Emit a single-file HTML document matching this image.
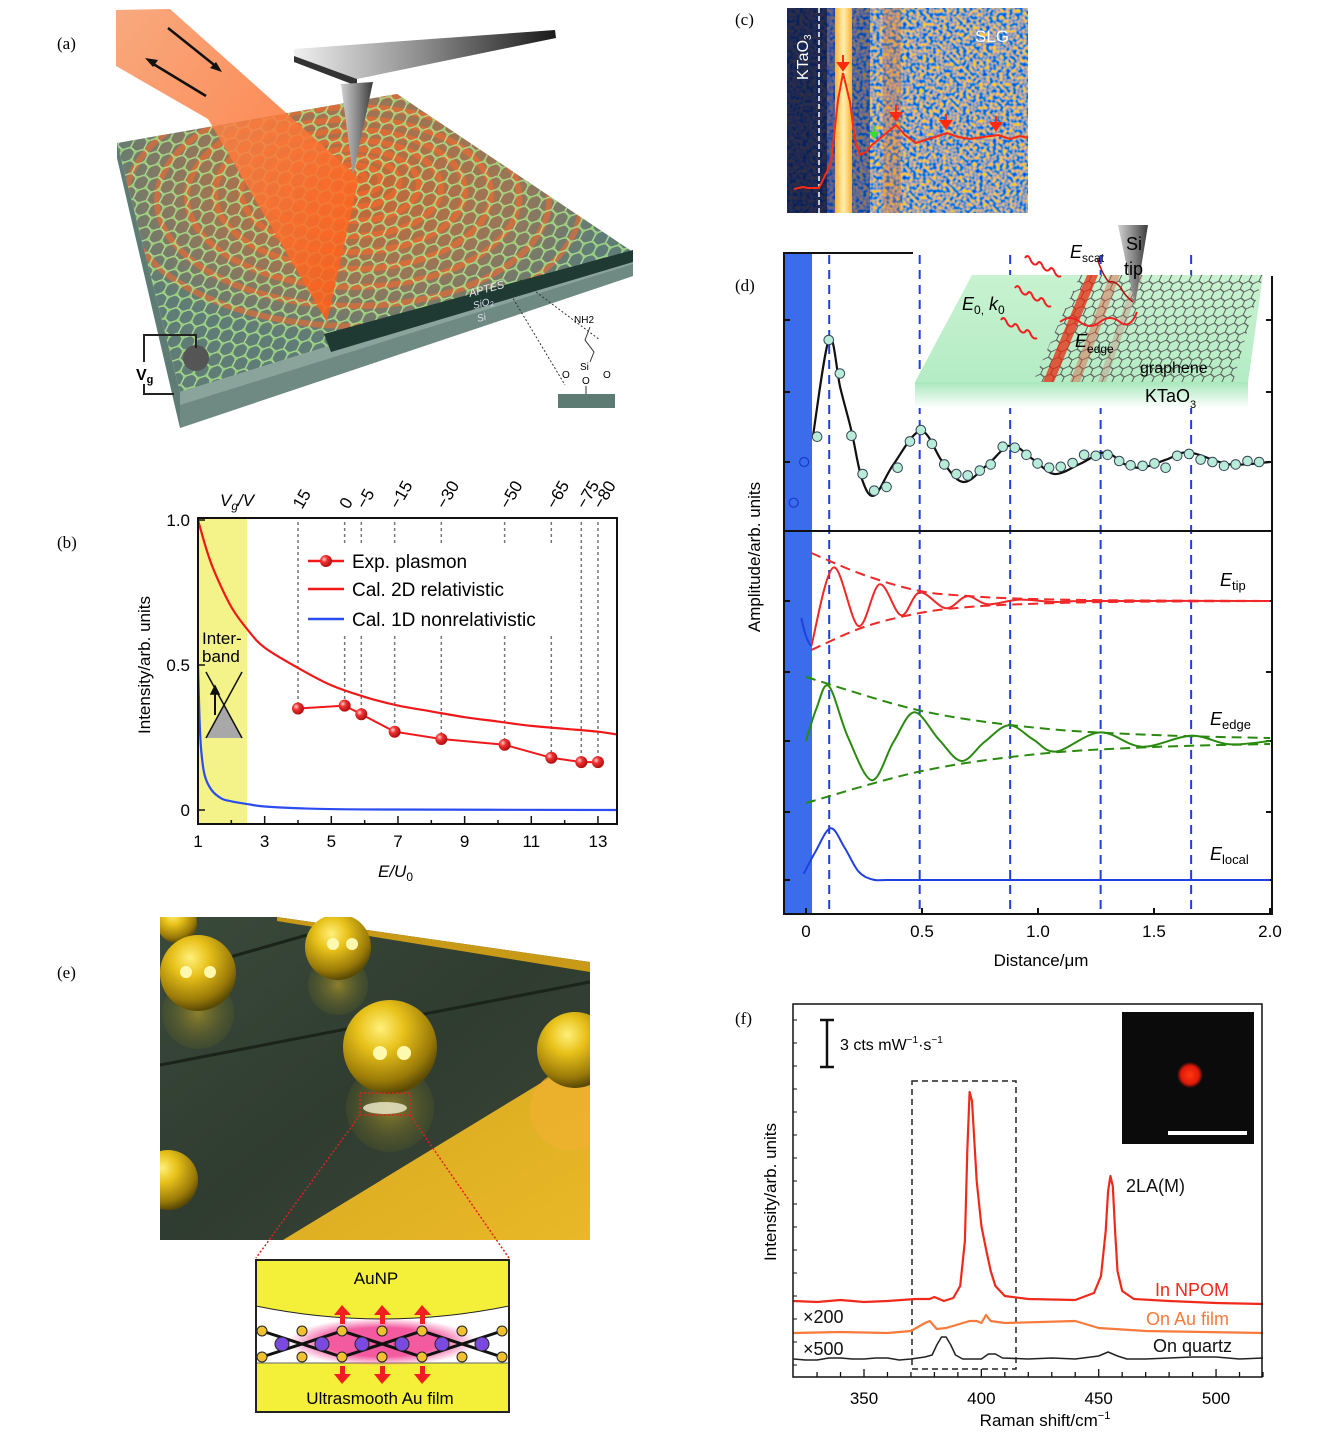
<!DOCTYPE html>
<html><head><meta charset="utf-8"><style>
html,body{margin:0;padding:0;background:#fff;width:1339px;height:1433px;overflow:hidden}
svg{display:block;font-family:"Liberation Sans",sans-serif}
.pl{font-family:"Liberation Serif",serif;font-size:17px}
</style></head><body>
<svg id="fig" width="1339" height="1433" viewBox="0 0 1339 1433" xmlns="http://www.w3.org/2000/svg">
<defs>
<pattern id="hexA" width="14" height="24" patternUnits="userSpaceOnUse" patternTransform="skewX(-20) rotate(8)">
<path d="M0,4 L7,0 L14,4 M7,0 V-4 M0,4 V12 L7,16 L14,12 V4 M7,16 V24" fill="none" stroke="#b9e79a" stroke-width="1.6"/>
<circle cx="7" cy="0" r="1.8" fill="#9fe07a"/><circle cx="0" cy="4" r="1.8" fill="#9fe07a"/><circle cx="14" cy="4" r="1.8" fill="#9fe07a"/><circle cx="0" cy="12" r="1.8" fill="#9fe07a"/><circle cx="14" cy="12" r="1.8" fill="#9fe07a"/><circle cx="7" cy="16" r="1.8" fill="#9fe07a"/>
</pattern>
<pattern id="hexD" width="10" height="17" patternUnits="userSpaceOnUse" patternTransform="skewX(-25)">
<path d="M0,3 L5,0 L10,3 M0,3 V9 L5,12 L10,9 V3 M5,12 V17" fill="none" stroke="#555" stroke-width="1"/>
</pattern>
<clipPath id="slabClip"><polygon points="117,143 397,94 633,252 180,392"/></clipPath>
<clipPath id="eClip"><rect x="160" y="917" width="430" height="323"/></clipPath>
<radialGradient id="glowA" cx="0.5" cy="0.5" r="0.5"><stop offset="0" stop-color="#ff5a10" stop-opacity="0.85"/><stop offset="0.6" stop-color="#ff6a20" stop-opacity="0.45"/><stop offset="1" stop-color="#ff6a20" stop-opacity="0"/></radialGradient>
<linearGradient id="beam" x1="0" y1="0" x2="1" y2="1"><stop offset="0" stop-color="#f79a68"/><stop offset="1" stop-color="#ff5a12"/></linearGradient>
<linearGradient id="cant" x1="0" y1="0" x2="1" y2="0"><stop offset="0" stop-color="#f0f0f0"/><stop offset="0.5" stop-color="#8a8a8a"/><stop offset="1" stop-color="#1a1a1a"/></linearGradient>
<linearGradient id="tipg" x1="0" y1="0" x2="1" y2="0"><stop offset="0" stop-color="#d0d0d0"/><stop offset="0.5" stop-color="#8a8a8a"/><stop offset="1" stop-color="#3a3a3a"/></linearGradient>
<radialGradient id="gold" cx="0.4" cy="0.3" r="0.7"><stop offset="0" stop-color="#fff07a"/><stop offset="0.35" stop-color="#e8c21a"/><stop offset="0.8" stop-color="#9a7a08"/><stop offset="1" stop-color="#5a4a05"/></radialGradient>
<radialGradient id="goldR" cx="0.5" cy="0.5" r="0.5"><stop offset="0" stop-color="#c8a828" stop-opacity="0.6"/><stop offset="1" stop-color="#6a6a20" stop-opacity="0.2"/></radialGradient>
<linearGradient id="egreen" x1="0" y1="0" x2="1" y2="1"><stop offset="0" stop-color="#3a4a3a"/><stop offset="0.5" stop-color="#2f3c30"/><stop offset="1" stop-color="#3a4636"/></linearGradient>
<linearGradient id="egold" x1="0" y1="0" x2="1" y2="1"><stop offset="0" stop-color="#d8a820"/><stop offset="1" stop-color="#e8b828"/></linearGradient>
<radialGradient id="pinkg" cx="0.5" cy="0.5" r="0.5"><stop offset="0.6" stop-color="#f45aa0"/><stop offset="1" stop-color="#f45aa0" stop-opacity="0"/></radialGradient>
<radialGradient id="dot" cx="0.5" cy="0.5" r="0.5"><stop offset="0" stop-color="#ff3a10"/><stop offset="0.7" stop-color="#e01808"/><stop offset="1" stop-color="#e01808" stop-opacity="0"/></radialGradient>
<radialGradient id="ball" cx="0.35" cy="0.35" r="0.65"><stop offset="0" stop-color="#ffd0d0"/><stop offset="0.4" stop-color="#f03030"/><stop offset="1" stop-color="#b01010"/></radialGradient>
<linearGradient id="insetG" x1="0" y1="0" x2="0" y2="1"><stop offset="0" stop-color="#c8f2d0"/><stop offset="1" stop-color="#b4ecc4"/></linearGradient>
<linearGradient id="insetF" x1="0" y1="0" x2="0" y2="1"><stop offset="0" stop-color="#a8e8bc"/><stop offset="1" stop-color="#ffffff"/></linearGradient>
<filter id="noise" x="0" y="0" width="1" height="1">
<feTurbulence type="fractalNoise" baseFrequency="0.3" numOctaves="1" seed="3"/>
<feColorMatrix type="matrix" values="3.0 0 0 0 -1.15  1.0 0 0 0 -0.15  -2.0 0 0 0 1.45  0 0 0 0 1"/>
</filter>
<linearGradient id="cband" x1="0" y1="0" x2="1" y2="0"><stop offset="0" stop-color="#ffb030"/><stop offset="0.5" stop-color="#fff0b0"/><stop offset="1" stop-color="#ffb030"/></linearGradient>
</defs>

<text class="pl" x="57" y="49">(a)</text>
<text class="pl" x="57" y="548">(b)</text>
<text class="pl" x="735" y="25">(c)</text>
<text class="pl" x="735" y="291">(d)</text>
<text class="pl" x="57" y="978">(e)</text>
<text class="pl" x="735" y="1024">(f)</text>

<!-- PANEL A -->
<g>
<polygon points="117,143 180,392 180,428 117,158" fill="#5e7c74"/>
<polygon points="180,392 633,252 633,276 180,428" fill="#8aa39b"/>
<polygon points="180,405 633,264 633,276 180,428" fill="#6f8a82"/>
<polygon points="117,143 397,94 633,252 180,392" fill="#5f7d76"/>
<g clip-path="url(#slabClip)">
<ellipse cx="353" cy="190" rx="260" ry="150" fill="url(#glowA)" opacity="0.8"/>
<g fill="none" stroke="#ff6a2a" stroke-opacity="0.55" stroke-width="6">
<ellipse cx="353" cy="178" rx="12" ry="6"/><ellipse cx="353" cy="180" rx="28" ry="15"/><ellipse cx="353" cy="182" rx="46" ry="25"/><ellipse cx="353" cy="185" rx="66" ry="36"/><ellipse cx="353" cy="188" rx="88" ry="48"/><ellipse cx="353" cy="191" rx="112" ry="61"/><ellipse cx="353" cy="194" rx="138" ry="75"/><ellipse cx="353" cy="197" rx="166" ry="90"/><ellipse cx="353" cy="200" rx="196" ry="106"/><ellipse cx="353" cy="203" rx="228" ry="123"/>
</g>
<polygon points="117,143 397,94 633,252 180,392" fill="url(#hexA)" opacity="0.85"/>
</g>
<polygon points="324,334 633,250 633,262 331,352" fill="#1f3a33"/>
<polygon points="116,10 170,9 359,178 327,322 208,119 116,66" fill="url(#beam)" opacity="0.85"/>
<line x1="168" y1="28" x2="218" y2="68" stroke="#111" stroke-width="2.5"/>
<polygon points="222,72 210,68 216,62" fill="#111"/>
<line x1="206" y1="96" x2="150" y2="62" stroke="#111" stroke-width="2.5"/>
<polygon points="145,58 158,60 153,67" fill="#111"/>
<polygon points="294,49 555,30 556,38 357,79 294,56" fill="url(#cant)"/>
<polygon points="294,56 357,79 357,86 294,62" fill="#333"/>
<polygon points="341,84 373,82 353,175" fill="url(#tipg)"/>
<text x="470" y="297" font-size="11" font-style="italic" fill="#e8e8e8" transform="rotate(-15 470 297)">APTES</text>
<text x="474" y="309" font-size="10" font-style="italic" fill="#dde" transform="rotate(-15 474 309)">SiO<tspan font-size="7" dy="2">2</tspan></text>
<text x="478" y="322" font-size="10" font-style="italic" fill="#dde" transform="rotate(-15 478 322)">Si</text>
<circle cx="196" cy="358" r="13" fill="#555"/>
<polyline points="196,348 196,335 144,335 144,394 174,394" fill="none" stroke="#222" stroke-width="2"/>
<rect x="134" y="362" width="22" height="22" fill="#fff"/>
<text x="136" y="380" font-size="16" font-weight="bold">V<tspan font-size="11" dy="3">g</tspan></text>
<line x1="505" y1="285" x2="565" y2="385" stroke="#333" stroke-dasharray="2,2"/>
<line x1="520" y1="280" x2="600" y2="340" stroke="#333" stroke-dasharray="2,2"/>
<rect x="558" y="394" width="57" height="14" fill="#5d7b73"/>
<text x="574" y="323" font-size="10">NH2</text>
<polyline points="590,327 585,340 594,352 590,362" fill="none" stroke="#333"/>
<text x="580" y="370" font-size="10">Si</text>
<text x="562" y="378" font-size="10">O</text><text x="603" y="378" font-size="10">O</text><text x="582" y="384" font-size="10">O</text>
<line x1="586" y1="386" x2="586" y2="394" stroke="#333"/>
</g>

<!-- PANEL C -->
<g>
<rect x="787" y="8" width="241" height="205" fill="#5060a0" filter="url(#noise)"/>
<rect x="787" y="8" width="40" height="205" fill="#0a1440" opacity="0.85"/>
<rect x="827" y="8" width="8" height="205" fill="#1a2a80" opacity="0.6"/>
<rect x="852" y="8" width="18" height="205" fill="#10206a" opacity="0.45"/>
<rect x="835" y="8" width="17" height="205" fill="url(#cband)"/>
<rect x="883" y="8" width="18" height="205" fill="#d07030" opacity="0.35"/>
<line x1="819" y1="8" x2="819" y2="213" stroke="#fff" stroke-width="1.5" stroke-dasharray="5,3"/>
<text x="808" y="80" font-size="16" fill="#fff" transform="rotate(-90 808 80)">KTaO<tspan font-size="10" dy="3">3</tspan></text>
<text x="975" y="42" font-size="17" fill="#fff">SLG</text>
<polyline points="794,189 803,187 808,188 819,188 831,163 838,100 843,73 850,102 855,140 860,155 866,152 872,145 884,135 896,125 905,135 916,143 925,140 935,137 947,133 958,137 970,139 983,137 998,135 1010,139 1020,136 1028,138" fill="none" stroke="#ff2a10" stroke-width="2"/>
<g fill="#ff2a10" stroke="#ff2a10" stroke-width="2">
<line x1="843" y1="55" x2="843" y2="66"/><polygon points="838,63 848,63 843,70"/>
<line x1="896" y1="105" x2="896" y2="116"/><polygon points="891,113 901,113 896,120"/>
<line x1="946" y1="114" x2="946" y2="124"/><polygon points="941,121 951,121 946,128"/>
<line x1="996" y1="116" x2="996" y2="126"/><polygon points="991,123 1001,123 996,130"/>
</g>
<line x1="874" y1="126" x2="874" y2="134" stroke="#30e030" stroke-width="2"/><polygon points="869,132 879,132 874,139" fill="#30e030"/>
</g>

<!-- PANEL E -->
<g>
<g clip-path="url(#eClip)">
<rect x="160" y="917" width="430" height="323" fill="url(#egreen)"/>
<polygon points="283,1240 590,1053 590,1240" fill="url(#egold)"/>
<polygon points="277,917 590,917 590,962" fill="#fff"/>
<polygon points="277,917 590,962 590,972 277,921" fill="#c89a18"/>
<line x1="230" y1="957" x2="307" y2="935" stroke="#1a2418" stroke-width="3"/>
<line x1="160" y1="1065" x2="590" y2="982" stroke="#1a2418" stroke-width="3"/>
<circle cx="198" cy="1013" r="36" fill="url(#goldR)"/>
<circle cx="338" cy="985" r="30" fill="url(#goldR)"/>
<circle cx="390" cy="1108" r="44" fill="url(#goldR)"/>
<circle cx="570" cy="1110" r="40" fill="#f0b030" opacity="0.7"/>
<circle cx="177" cy="923" r="20" fill="url(#gold)"/>
<circle cx="198" cy="973" r="38" fill="url(#gold)"/>
<circle cx="338" cy="947" r="33" fill="url(#gold)"/>
<circle cx="390" cy="1047" r="47" fill="url(#gold)"/>
<circle cx="575" cy="1050" r="38" fill="url(#gold)"/>
<circle cx="168" cy="1180" r="30" fill="url(#gold)"/>
<g fill="#fff9b0"><circle cx="186" cy="972" r="6"/><circle cx="210" cy="972" r="6"/><circle cx="333" cy="944" r="6"/><circle cx="352" cy="944" r="6"/><circle cx="380" cy="1053" r="7"/><circle cx="404" cy="1053" r="7"/></g>
<ellipse cx="385" cy="1108" rx="22" ry="6" fill="#f0ecd0" opacity="0.8"/>
</g>
<rect x="360" y="1093" width="50" height="22" fill="none" stroke="#e02020" stroke-width="1.5" stroke-dasharray="2,2"/>
<line x1="360" y1="1115" x2="256" y2="1258" stroke="#e02020" stroke-width="1.5" stroke-dasharray="2,2"/>
<line x1="410" y1="1115" x2="509" y2="1258" stroke="#e02020" stroke-width="1.5" stroke-dasharray="2,2"/>
<g>
<rect x="256" y="1260" width="253" height="152" fill="#fff"/>
<path d="M256,1260 H509 V1306 Q382,1332 256,1306 Z" fill="#f4f03a"/>
<rect x="256" y="1363" width="253" height="49" fill="#f4f03a"/>
<line x1="256" y1="1363" x2="509" y2="1363" stroke="#666"/>
<path d="M256,1306 Q382,1332 509,1306" fill="none" stroke="#222"/>
<ellipse cx="382" cy="1342" rx="95" ry="24" fill="url(#pinkg)"/>
<polyline points="262,1331 302,1344 342,1331 382,1344 422,1331 462,1344 502,1331" fill="none" stroke="#111" stroke-width="3"/>
<polyline points="262,1357 302,1344 342,1357 382,1344 422,1357 462,1344 502,1357" fill="none" stroke="#111" stroke-width="3"/>
<g fill="#f0c030" stroke="#222" stroke-width="1"><circle cx="262" cy="1331" r="5"/><circle cx="302" cy="1331" r="5"/><circle cx="342" cy="1331" r="5"/><circle cx="382" cy="1331" r="5"/><circle cx="422" cy="1331" r="5"/><circle cx="462" cy="1331" r="5"/><circle cx="502" cy="1331" r="5"/><circle cx="262" cy="1357" r="5"/><circle cx="302" cy="1357" r="5"/><circle cx="342" cy="1357" r="5"/><circle cx="382" cy="1357" r="5"/><circle cx="422" cy="1357" r="5"/><circle cx="462" cy="1357" r="5"/><circle cx="502" cy="1357" r="5"/></g>
<g fill="#7a4ae0" stroke="#222" stroke-width="1"><circle cx="282" cy="1344" r="7"/><circle cx="322" cy="1344" r="7"/><circle cx="362" cy="1344" r="7"/><circle cx="402" cy="1344" r="7"/><circle cx="442" cy="1344" r="7"/><circle cx="482" cy="1344" r="7"/></g>
<g fill="#f02020">
<rect x="340" y="1312" width="5" height="12"/><polygon points="334,1315 351,1315 342,1305"/><rect x="340" y="1366" width="5" height="11"/><polygon points="334,1374 351,1374 342,1384"/>
<rect x="380" y="1312" width="5" height="12"/><polygon points="374,1315 391,1315 382,1305"/><rect x="380" y="1366" width="5" height="11"/><polygon points="374,1374 391,1374 382,1384"/>
<rect x="420" y="1312" width="5" height="12"/><polygon points="414,1315 431,1315 422,1305"/><rect x="420" y="1366" width="5" height="11"/><polygon points="414,1374 431,1374 422,1384"/>
</g>
<rect x="256" y="1260" width="253" height="152" fill="none" stroke="#222" stroke-width="2"/>
<text x="376" y="1284" font-size="17" text-anchor="middle">AuNP</text>
<text x="380" y="1404" font-size="17" text-anchor="middle">Ultrasmooth Au film</text>
</g>
</g>

<g id="chartB"></g>
<g id="chartD"></g>
<g id="chartF"></g>
</svg>

<script>
// ---------- Panel (b) data ----------
const bE = [4, 5.4, 5.9, 6.9, 8.3, 10.2, 11.6, 12.5, 13];
const bExp = [0.35, 0.36, 0.33, 0.27, 0.245, 0.225, 0.18, 0.165, 0.165];
const bVg = ['15', '0', '−5', '−15', '−30', '−50', '−65', '−75', '−80'];
const bRelE = [1, 1.25, 1.5, 2, 2.5, 3, 4, 5, 6, 7, 8, 9, 10, 11, 12, 13, 13.6];
const bRelI = [1.0, 0.9, 0.82, 0.7, 0.62, 0.56, 0.49, 0.43, 0.39, 0.36, 0.34, 0.32, 0.305, 0.29, 0.28, 0.27, 0.26];
const bNrE = [1, 1.05, 1.1, 1.2, 1.4, 1.7, 2, 2.5, 3, 4, 6, 13.6];
const bNrI = [0.5, 0.3, 0.2, 0.12, 0.07, 0.04, 0.03, 0.02, 0.012, 0.006, 0.002, 0];
const bXTicks = [1, 3, 5, 7, 9, 11, 13];
const bYTicks = [0, 0.5, 1.0];
const bYTickLabels = ['0', '0.5', '1.0'];

// ---------- Panel (d) data ----------
const dVlines = [0.1, 0.49, 0.88, 1.27, 1.66];
const dXTicks = [0, 0.5, 1.0, 1.5, 2.0];
const dXTickLabels = ['0', '0.5', '1.0', '1.5', '2.0'];
const dExpX = [0.048,0.098,0.146,0.196,0.244,0.294,0.347,0.395,0.448,0.495,0.543,0.596,0.648,0.697,0.749,0.796,0.848,0.900,0.950,0.998,1.048,1.098,1.149,1.199,1.249,1.300,1.350,1.399,1.451,1.502,1.550,1.600,1.651,1.701,1.752,1.802,1.852,1.903,1.953];
const dExpV = [2.53,12.2,8.85,2.63,-1.2,-2.87,-2.49,-0.57,2.06,3.2,1.82,-0.24,-1.2,-1.34,-0.86,-0.24,1.53,1.43,0.72,-0.14,-0.57,-0.48,-0.1,0.72,0.62,0.72,0.1,-0.33,-0.38,-0.14,-0.57,0.62,0.81,0.24,0,-0.38,-0.24,0.1,0];
const dOutX = [-0.008, -0.053];
const dOutV = [0, -4.07];
const dFitX = [0.03,0.1,0.148,0.196,0.241,0.294,0.377,0.495,0.589,0.679,0.784,0.882,0.98,1.071,1.18,1.289,1.372,1.448,1.553,1.651,1.825,2.0];
const dFitV = [2.6,12.3,7.4,3.1,-1.7,-3.35,-0.24,3.1,0,-2.0,-0.24,1.67,0.24,-1.2,-0.2,0.96,-0.2,-0.57,0.24,0.96,-0.24,0];
const dTipX = [0.023,0.118,0.226,0.317,0.41,0.49,0.603,0.694,0.784,0.92,1.07,1.22,2.0];
const dTipV = [-4.5,3.35,-2.5,1.67,-1.43,0.86,-0.72,0.48,-0.33,0.14,-0.1,0,0];
const dTipEnvX = [0.023,0.25,0.49,0.7,0.92,1.3,2.0];
const dTipEnvUp = [4.8,2.6,1.0,0.5,0.24,0.08,0];
const dTipEnvLo = [-4.9,-2.6,-1.2,-0.6,-0.33,-0.1,0];
const dEdgeX = [0,0.045,0.098,0.181,0.284,0.377,0.467,0.573,0.671,0.769,0.875,0.98,1.078,1.267,1.448,1.66,1.825,2.0];
const dEdgeV = [0,3.25,5.5,0.38,-3.92,-0.1,2.87,0.14,-2.0,-0.1,1.58,0.14,-1.05,0.86,-0.57,0.53,-0.33,0];
const dEnvX = [0, 0.5, 1.0, 1.5, 2.0];
const dEdgeEnvUp = [6.4, 3.0, 1.3, 0.6, 0.3];
const dEdgeEnvLo = [-6.2, -3.0, -1.3, -0.6, -0.3];
const dLocX = [-0.01,0.04,0.106,0.166,0.226,0.287,0.35,0.6,1.0,2.0];
const dLocV = [0.62,2.8,5.17,3.25,0.86,0.05,0,0,0,0];

// ---------- Panel (f) data ----------
const fRedX = [320,330,340,350,360,372,378,380,384,388,391,393,394,395,396,398,400,402,404,406,410,420,440,448,451,453,454,455,456,457,458,460,465,480,500,520];
const fRedV = [0,-1,1,-1,0,2,2,4,0,3,15,60,150,209,200,120,75,52,30,15,5,2,1,8,25,70,110,125,115,70,30,10,2,0,-2,-3];
const fOrX = [320,340,360,370,376,378,381,385,395,398,400,402,404,410,440,450,470,520];
const fOrV = [0,1,0,2,10,12,4,5,12,12,10,18,12,10,12,5,2,0];
const fBkX = [320,325,330,335,340,345,350,355,360,365,370,376,379,381,383,385,387,389,392,400,403,406,409,420,430,440,450,454,458,462,470,480,490,500,510,520];
const fBkV = [0,-1,-1,1,1,0,0,1,1,-1,0,2,4,14,22,22,14,4,0,0,5,5,1,0,1,0,3,7,3,0,0,1,2,2,0,1];
const fXTicks = [350, 400, 450, 500];

const NS = 'http://www.w3.org/2000/svg';
function mk(tag, attrs, parent, text) {
  const el = document.createElementNS(NS, tag);
  for (const k in attrs) el.setAttribute(k, attrs[k]);
  if (text !== undefined) el.textContent = text;
  parent.appendChild(el);
  return el;
}
function smooth(pts) {
  let d = 'M' + pts[0][0] + ',' + pts[0][1];
  for (let i = 0; i < pts.length - 1; i++) {
    const p0 = pts[i - 1] || pts[i], p1 = pts[i], p2 = pts[i + 1], p3 = pts[i + 2] || p2;
    const c1x = p1[0] + (p2[0] - p0[0]) / 6, c1y = p1[1] + (p2[1] - p0[1]) / 6;
    const c2x = p2[0] - (p3[0] - p1[0]) / 6, c2y = p2[1] - (p3[1] - p1[1]) / 6;
    d += ' C' + c1x + ',' + c1y + ' ' + c2x + ',' + c2y + ' ' + p2[0] + ',' + p2[1];
  }
  return d;
}
function poly(pts) { return pts.map(p => p[0].toFixed(1) + ',' + p[1].toFixed(1)).join(' '); }

// ================= Panel B =================
(function () {
  const g = document.getElementById('chartB');
  const xB = e => 198 + (e - 1) * 33.33;
  const yB = v => 810 - v * 290;
  let el;
  el = mk('rect', {x: 198, y: 518, width: 49, height: 306, fill: '#f4f38a'}, g);
  
  
  bE.forEach((e, i) => {
    el = mk('line', {x1: xB(e), y1: 522, x2: xB(e), y2: yB(bExp[i]), stroke: '#777', 'stroke-width': 1.5, 'stroke-dasharray': '3,3'}, g);
    
    
    el = mk('text', {x: xB(e) + 4, y: 510, 'font-size': 17, transform: 'rotate(-60 ' + (xB(e) + 4) + ' 510)'}, g, bVg[i]);
    
    
  });
  el = mk('rect', {x: 300, y: 545, width: 268, height: 88, fill: '#fff'}, g);
  
  
  el = mk('path', {d: smooth(bRelE.map((e, i) => [xB(e), yB(bRelI[i])])), fill: 'none', stroke: '#f01818', 'stroke-width': 2.2}, g);
  
  
  el = mk('path', {d: smooth(bNrE.map((e, i) => [xB(e), yB(bNrI[i])])), fill: 'none', stroke: '#2a4cf0', 'stroke-width': 2.2}, g);
  
  
  el = mk('polyline', {points: poly(bE.map((e, i) => [xB(e), yB(bExp[i])])), fill: 'none', stroke: '#f01818', 'stroke-width': 2}, g);
  
  
  bE.forEach((e, i) => {
    el = mk('circle', {cx: xB(e), cy: yB(bExp[i]), r: 6, fill: 'url(#ball)'}, g);
    
    
  });
  el = mk('g', {stroke: '#111', 'stroke-width': 1.5}, g);
  
  
  mk('polygon', {points: '224,705 206,738 242,738', fill: '#a8a8a8', stroke: 'none'}, el);
  mk('line', {x1: 206, y1: 672, x2: 242, y2: 738}, el);
  mk('line', {x1: 242, y1: 672, x2: 206, y2: 738}, el);
  mk('line', {x1: 215, y1: 715, x2: 215, y2: 692, 'stroke-width': 2}, el);
  mk('polygon', {points: '211,694 219,694 215,686', fill: '#111'}, el);
  el = mk('text', {x: 202, y: 644, 'font-size': 17}, g, 'Inter-');
  
  
  mk('text', {x: 202, y: 662, 'font-size': 17}, g, 'band');
  el = mk('rect', {x: 198, y: 518, width: 419, height: 306, fill: 'none', stroke: '#111', 'stroke-width': 2}, g);
  
  
  for (let e = 2; e <= 13; e++) {
    mk('line', {x1: xB(e), y1: 824, x2: xB(e), y2: e % 2 ? 816 : 820, stroke: '#111', 'stroke-width': 1.5}, g);
  }
  bXTicks.forEach(t => {
    el = mk('text', {x: xB(t), y: 847, 'font-size': 17, 'text-anchor': 'middle'}, g, String(t));
    
    
  });
  bYTicks.forEach((t, i) => {
    mk('line', {x1: 198, y1: yB(t), x2: 205, y2: yB(t), stroke: '#111', 'stroke-width': 1.5}, g);
    el = mk('text', {x: 190, y: yB(t) + 6, 'font-size': 17, 'text-anchor': 'end'}, g, bYTickLabels[i]);
    
    
  });
  el = mk('text', {x: 150, y: 665, 'font-size': 17, 'text-anchor': 'middle', transform: 'rotate(-90 150 665)'}, g, 'Intensity/arb. units');
  
  
  el = mk('text', {x: 378, y: 877, 'font-size': 17, 'font-style': 'italic'}, g);
  el.innerHTML = 'E/U<tspan font-size="12" dy="4" font-style="normal">0</tspan>';
  
  
  el = mk('text', {x: 220, y: 506, 'font-size': 17, 'font-style': 'italic'}, g);
  el.innerHTML = 'V<tspan font-size="12" dy="4">g</tspan><tspan dy="-4">/V</tspan>';
  
  
  const leg = [['Exp. plasmon', '#f01818', 561], ['Cal. 2D relativistic', '#f01818', 589], ['Cal. 1D nonrelativistic', '#2a4cf0', 619]];
  leg.forEach((l, i) => {
    el = mk('line', {x1: 308, y1: l[2], x2: 344, y2: l[2], stroke: l[1], 'stroke-width': 2.5}, g);
    
    
    if (i === 0) mk('circle', {cx: 326, cy: l[2], r: 6, fill: 'url(#ball)'}, g);
    el = mk('text', {x: 352, y: l[2] + 7, 'font-size': 19}, g, l[0]);
    
    
  });
})();

// ================= Panel D =================
(function () {
  const g = document.getElementById('chartD');
  const xD = d => 806 + d * 232;
  const yS = (base, v) => base - v * 10;
  let el;
  el = mk('rect', {x: 784, y: 253, width: 28, height: 661, fill: '#3a6cec'}, g);
  
  
  dVlines.forEach(d => {
    el = mk('line', {x1: xD(d), y1: 255, x2: xD(d), y2: 912, stroke: '#1f3fe0', 'stroke-width': 2, 'stroke-dasharray': '9,6'}, g);
    
    
  });
  el = mk('g', {}, g);
  
  
  mk('polygon', {points: '972,275 1263,275 1248,382 915,382', fill: 'url(#insetG)'}, el);
  mk('rect', {x: 915, y: 382, width: 333, height: 26, fill: 'url(#insetF)'}, el);
  mk('polygon', {points: '1080,275 1263,275 1233,382 1033,382', fill: 'url(#hexD)'}, el);
  mk('polygon', {points: '1087,275 1098,275 1054,382 1043,382', fill: '#e82a10', opacity: 0.75}, el);
  mk('polygon', {points: '1110,275 1120,275 1080,382 1070,382', fill: '#e05a40', opacity: 0.45}, el);
  mk('polygon', {points: '1135,275 1143,275 1106,382 1098,382', fill: '#c87a70', opacity: 0.35}, el);
  mk('polygon', {points: '1118,225 1148,225 1135,305', fill: 'url(#tipg)'}, el);
  mk('text', {x: 1126, y: 250, 'font-size': 18}, el, 'Si');
  mk('text', {x: 1124, y: 275, 'font-size': 18}, el, 'tip');
  const wav = (x0, y0) => { let d = 'M' + x0 + ',' + y0; for (let k = 1; k <= 6; k++) d += ' q3,' + (k % 2 ? -5 : 5) + ' 6,' + 3; return d; };
  [[1025, 258], [1015, 288], [1001, 320]].forEach(p => mk('path', {d: wav(p[0], p[1]), fill: 'none', stroke: '#f02020', 'stroke-width': 2}, el));
  mk('path', {d: 'M1060,322 q10,-8 20,0 q10,8 20,0 q10,-8 20,0 q10,8 17,-10', fill: 'none', stroke: '#f02020', 'stroke-width': 2}, el);
  mk('path', {d: 'M1133,302 q-8,-6 -12,-14 q-6,-8 -12,-6 q-6,-6 -12,-24', fill: 'none', stroke: '#b01010', 'stroke-width': 1.5}, el);
  let t = mk('text', {x: 1070, y: 258, 'font-size': 18, 'font-style': 'italic'}, el); t.innerHTML = 'E<tspan font-size="12" dy="4" font-style="normal">scat</tspan>';
  t = mk('text', {x: 962, y: 310, 'font-size': 18, 'font-style': 'italic'}, el); t.innerHTML = 'E<tspan font-size="12" dy="4" font-style="normal">0,</tspan><tspan dy="-4"> k</tspan><tspan font-size="12" dy="4" font-style="normal">0</tspan>';
  t = mk('text', {x: 1075, y: 347, 'font-size': 18, 'font-style': 'italic'}, el); t.innerHTML = 'E<tspan font-size="12" dy="6" font-style="normal">edge</tspan>';
  mk('text', {x: 1140, y: 373, 'font-size': 16}, el, 'graphene');
  t = mk('text', {x: 1145, y: 402, 'font-size': 18}, el); t.innerHTML = 'KTaO<tspan font-size="11" dy="6">3</tspan>';
  el = mk('g', {stroke: '#111', 'stroke-width': 2, fill: 'none'}, g);
  
  
  mk('polyline', {points: '913,253 784,253 784,914 1272,914 1272,276'}, el);
  mk('line', {x1: 784, y1: 531, x2: 1272, y2: 531}, el);
  [320, 392, 462, 601, 672, 741, 812, 880].forEach(y => {
    mk('line', {x1: 1272, y1: y, x2: 1266, y2: y}, el);
    mk('line', {x1: 784, y1: y, x2: 790, y2: y}, el);
  });
  dXTicks.forEach((d, i) => {
    mk('line', {x1: xD(d), y1: 914, x2: xD(d), y2: 908, stroke: '#111', 'stroke-width': 2}, g);
    el = mk('text', {x: xD(d), y: 937, 'font-size': 17, 'text-anchor': 'middle'}, g, dXTickLabels[i]);
    
    
  });
  el = mk('text', {x: 1041, y: 966, 'font-size': 17, 'text-anchor': 'middle'}, g, 'Distance/μm');
  
  
  el = mk('text', {x: 760, y: 557, 'font-size': 17, 'text-anchor': 'middle', transform: 'rotate(-90 760 557)'}, g, 'Amplitude/arb. units');
  
  
  el = mk('path', {d: smooth(dFitX.map((d, i) => [xD(d), yS(462, dFitV[i])])), fill: 'none', stroke: '#111', 'stroke-width': 2.2}, g);
  
  
  dExpX.forEach((d, i) => {
    el = mk('circle', {cx: xD(d), cy: yS(462, dExpV[i]), r: 4.8, fill: '#b8ecd8', stroke: '#345', 'stroke-width': 1}, g);
    
    
  });
  dOutX.forEach((d, i) => {
    el = mk('circle', {cx: xD(d), cy: yS(462, dOutV[i]), r: 4.5, fill: 'none', stroke: '#1a3ac0', 'stroke-width': 1.2}, g);
    
    
  });
  el = mk('path', {d: smooth(dTipX.map((d, i) => [xD(d), yS(601, dTipV[i])])), fill: 'none', stroke: '#f02828', 'stroke-width': 2}, g);
  
  
  el = mk('path', {d: 'M' + xD(-0.02) + ',' + yS(601, -1.7) + ' Q' + xD(0.0) + ',' + yS(601, -4) + ' ' + xD(0.023) + ',' + yS(601, -4.5), fill: 'none', stroke: '#2040e0', 'stroke-width': 2}, g);
  [dTipEnvUp, dTipEnvLo].forEach(arr => {
    el = mk('path', {d: smooth(dTipEnvX.map((d, i) => [xD(d), yS(601, arr[i])])), fill: 'none', stroke: '#f02828', 'stroke-width': 2, 'stroke-dasharray': '10,6'}, g);
    
    
  });
  el = mk('path', {d: smooth(dEdgeX.map((d, i) => [xD(d), yS(741, dEdgeV[i])])), fill: 'none', stroke: '#2a8a10', 'stroke-width': 2}, g);
  
  
  [dEdgeEnvUp, dEdgeEnvLo].forEach(arr => {
    el = mk('path', {d: smooth(dEnvX.map((d, i) => [xD(d), yS(741, arr[i])])), fill: 'none', stroke: '#2a8a10', 'stroke-width': 2, 'stroke-dasharray': '10,6'}, g);
    
    
  });
  el = mk('path', {d: smooth(dLocX.map((d, i) => [xD(d), yS(880, dLocV[i])])), fill: 'none', stroke: '#2040e0', 'stroke-width': 2}, g);
  
  
  [['tip', 1220, 586], ['edge', 1210, 725], ['local', 1210, 860]].forEach(l => {
    el = mk('text', {x: l[1], y: l[2], 'font-size': 18, 'font-style': 'italic'}, g);
    el.innerHTML = 'E<tspan font-size="13" dy="4" font-style="normal">' + l[0] + '</tspan>';
    
    
  });
})();

// ================= Panel F =================
(function () {
  const g = document.getElementById('chartF');
  const xF = s => 864 + (s - 350) * 2.347;
  const yF = (base, v) => base - v;
  let el;
  el = mk('rect', {x: 1122, y: 1012, width: 132, height: 132, fill: '#0b0b0b'}, g);
  
  
  mk('circle', {cx: 1190, cy: 1075, r: 13, fill: 'url(#dot)'}, g);
  el = mk('rect', {x: 1168, y: 1131, width: 79, height: 4, fill: '#fff'}, g);
  
  
  el = mk('rect', {x: 912, y: 1081, width: 104, height: 288, fill: 'none', stroke: '#222', 'stroke-width': 1.5, 'stroke-dasharray': '6,4'}, g);
  
  
  const series = [[fRedX, fRedV, 1301, '#f02a1a', 'in-npom-spectrum'], [fOrX, fOrV, 1333, '#f87a3a', 'on-au-film-spectrum'], [fBkX, fBkV, 1359, '#222', 'on-quartz-spectrum']];
  series.forEach(s => {
    el = mk('polyline', {points: poly(s[0].map((x, i) => [xF(x), yF(s[2], s[1][i])])), fill: 'none', stroke: s[3], 'stroke-width': s[3] === '#222' ? 1.5 : 2.2, 'stroke-linejoin': 'round'}, g);
    
    
  });
  el = mk('rect', {x: 793, y: 1004, width: 469, height: 373, fill: 'none', stroke: '#111', 'stroke-width': 1.5}, g);
  
  
  for (let s = 330; s <= 520; s += 10) mk('line', {x1: xF(s), y1: 1377, x2: xF(s), y2: s % 50 ? 1372 : 1369, stroke: '#111', 'stroke-width': 1.3}, g);
  for (let y = 1020; y < 1377; y += 23) mk('line', {x1: 793, y1: y, x2: 797, y2: y, stroke: '#111'}, g);
  fXTicks.forEach(t => {
    el = mk('text', {x: xF(t), y: 1404, 'font-size': 17, 'text-anchor': 'middle'}, g, String(t));
    
    
  });
  el = mk('text', {x: 1045, y: 1426, 'font-size': 17, 'text-anchor': 'middle'}, g);
  el.innerHTML = 'Raman shift/cm<tspan font-size="11" dy="-7">−1</tspan>';
  
  
  el = mk('text', {x: 776, y: 1192, 'font-size': 17, 'text-anchor': 'middle', transform: 'rotate(-90 776 1192)'}, g, 'Intensity/arb. units');
  
  
  el = mk('path', {d: 'M820,1020 H834 M827,1020 V1067 M820,1067 H834', stroke: '#111', 'stroke-width': 2.5, fill: 'none'}, g);
  
  
  el = mk('text', {x: 840, y: 1050, 'font-size': 16}, g);
  el.innerHTML = '3 cts mW<tspan font-size="10" dy="-7">−1</tspan><tspan dy="7">·s</tspan><tspan font-size="10" dy="-7">−1</tspan>';
  
  
  const labs = [['2LA(M)', 1126, 1192, '#111', 18], ['In NPOM', 1155, 1296, '#f02a1a', 18], ['On Au film', 1146, 1325, '#f87a3a', 18], ['On quartz', 1153, 1352, '#111', 18], ['×200', 803, 1323, '#111', 18], ['×500', 803, 1355, '#111', 18]];
  labs.forEach(l => {
    el = mk('text', {x: l[1], y: l[2], 'font-size': l[4], fill: l[3]}, g, l[0]);
    
    
  });
})();
</script>
</body></html>
